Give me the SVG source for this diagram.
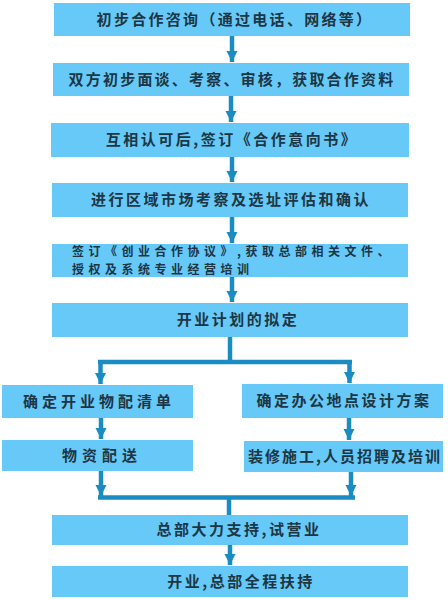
<svg xmlns="http://www.w3.org/2000/svg" width="448" height="600" viewBox="0 0 448 600">
<defs>
<style>
.box{fill:#66c9f8;}
.t{font-family:"Noto Sans CJK SC","Noto Sans",sans-serif;font-size:15px;font-weight:700;fill:#1d3644;letter-spacing:2.5px;text-anchor:middle;}
.tl{text-anchor:start;font-size:12px;letter-spacing:4.5px;}
.c{stroke:#1a8cc2;stroke-width:4.5;fill:none;}
</style>
<marker id="ah" markerUnits="userSpaceOnUse" markerWidth="12" markerHeight="12" refX="11" refY="6" orient="auto">
<path d="M0,0.5 L11,6 L0,11.5 z" fill="#1a8cc2"/>
</marker>
</defs>
<rect width="448" height="600" fill="#ffffff"/>
<g id="connectors">
<path class="c" d="M232 36 V62" marker-end="url(#ah)"/>
<path class="c" d="M231 96 V122" marker-end="url(#ah)"/>
<path class="c" d="M232 157 V182" marker-end="url(#ah)"/>
<path class="c" d="M232 217 V243" marker-end="url(#ah)"/>
<path class="c" d="M232 277 V302" marker-end="url(#ah)"/>
<path class="c" d="M230 337 V362"/>
<path class="c" d="M98 362 H352"/>
<path class="c" d="M100.5 360 V384" marker-end="url(#ah)"/>
<path class="c" d="M349.5 360 V383" marker-end="url(#ah)"/>
<path class="c" d="M101 418 V439" marker-end="url(#ah)"/>
<path class="c" d="M349 418 V440" marker-end="url(#ah)"/>
<path class="c" d="M101 471 V496" marker-end="url(#ah)"/>
<path class="c" d="M351 472 V496" marker-end="url(#ah)"/>
<path class="c" d="M98 497.5 H355"/>
<path class="c" d="M229 497 V515"/>
<path class="c" d="M230 545 V565" marker-end="url(#ah)"/>
</g>
<g id="n1"><rect class="box" x="54" y="3" width="356" height="33"/><text class="t" x="235" y="25" style="letter-spacing:2.3px">初步合作咨询（通过电话、网络等）</text></g>
<g id="n2"><rect class="box" x="53" y="63" width="356" height="33"/><text class="t" x="232" y="85" style="letter-spacing:2.2px">双方初步面谈、考察、审核，获取合作资料</text></g>
<g id="n3"><rect class="box" x="51" y="123" width="358" height="34"/><text class="t" x="232" y="145">互相认可后,签订《合作意向书》</text></g>
<g id="n4"><rect class="box" x="52" y="183" width="356" height="34"/><text class="t" x="231" y="205">进行区域市场考察及选址评估和确认</text></g>
<g id="n5"><rect class="box" x="52" y="244" width="356" height="33"/><text class="t tl" x="72" y="256">签订《创业合作协议》,获取总部相关文件、<tspan x="72" y="273.6">授权及系统专业经营培训</tspan></text></g>
<g id="n6"><rect class="box" x="52" y="303" width="356" height="34"/><text class="t" x="238" y="325">开业计划的拟定</text></g>
<g id="n7"><rect class="box" x="2" y="385" width="191" height="33"/><text class="t" x="99" y="407" style="letter-spacing:4px">确定开业物配清单</text></g>
<g id="n8"><rect class="box" x="242" y="384" width="201" height="34"/><text class="t" x="344" y="406">确定办公地点设计方案</text></g>
<g id="n9"><rect class="box" x="2" y="440" width="191" height="31"/><text class="t" x="102" y="461" style="letter-spacing:5px">物资配送</text></g>
<g id="n10"><rect class="box" x="244" y="441" width="199" height="31"/><text class="t" x="345" y="462" style="letter-spacing:2px">装修施工,人员招聘及培训</text></g>
<g id="n11"><rect class="box" x="52" y="515" width="356" height="30"/><text class="t" x="239" y="535">总部大力支持,试营业</text></g>
<g id="n12"><rect class="box" x="52" y="566" width="356" height="31"/><text class="t" x="241" y="587">开业,总部全程扶持</text></g>
</svg>
